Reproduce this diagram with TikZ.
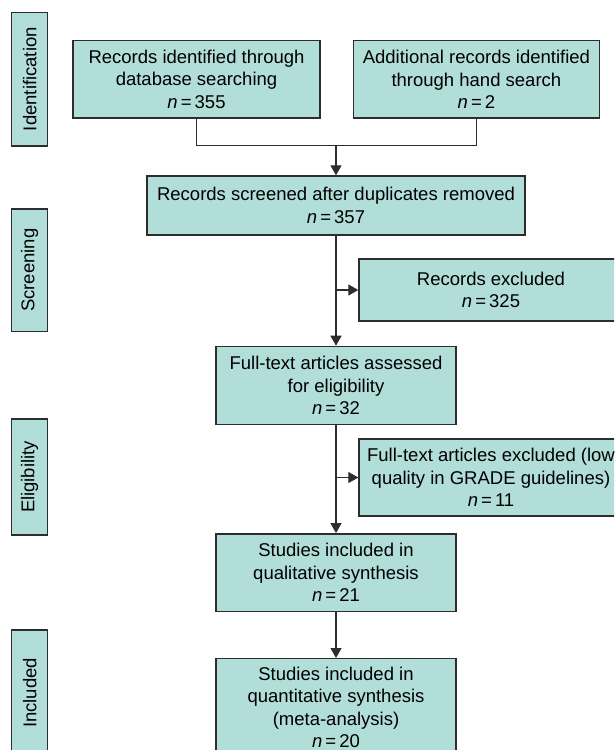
\documentclass[tikz,border=0pt]{standalone}
\usepackage{fontspec}
\setmainfont{Liberation Sans}
\usepackage{xcolor}
\usetikzlibrary{shapes,arrows.meta,positioning,fit,calc}
\definecolor{boxfill}{RGB}{178,222,218}
\definecolor{boxline}{RGB}{45,45,45}

\begin{document}
\begin{tikzpicture}[
    x=1pt, y=-1pt,
    font=\fontsize{18.5}{22.5}\selectfont,
    block/.style={rectangle, draw=boxline, fill=boxfill, line width=1.4pt, align=center, inner sep=2pt},
    phase/.style={rectangle, draw=boxline, fill=boxfill, line width=1.4pt, minimum height=36pt, inner sep=1pt, rotate=90},
    line/.style={draw=boxline, line width=1.3pt, -{Triangle[length=10pt,width=11pt]}},
    link/.style={draw=boxline, line width=1.3pt}
]
\useasboundingbox (0,0) rectangle (614,750);
\clip (0,0) rectangle (614,750);

% Phase labels
\node [phase, minimum width=133.7pt] (ident) at (29.7,79.2) {Identification};
\node [phase, minimum width=122.7pt] (screen) at (29.7,270.3) {Screening};
\node [phase, minimum width=116pt] (elig) at (29.7,477) {Eligibility};
\node [phase, minimum width=126pt] (incl) at (29.7,693) {Included};

% Identification
\node [block, minimum width=247pt, minimum height=77.5pt] (database) at (196.5,79.3) {Records identified through\\database searching\\\textit{n}\,=\,355};
\node [block, minimum width=246pt, minimum height=77.5pt, right=32pt of database] (hand) {Additional records identified\\through hand search\\\textit{n}\,=\,2};

% Screening
\node [block, minimum width=378pt, minimum height=59pt] (screened) at (336,205.5) {Records screened after duplicates removed\\\textit{n}\,=\,357};
\node [block, minimum width=264pt, minimum height=62pt] (excluded) at (491,290) {Records excluded\\\textit{n}\,=\,325};

% Eligibility
\node [block, minimum width=240pt, minimum height=78pt, below=110pt of screened] (fulltext) {Full-text articles assessed\\for eligibility\\\textit{n}\,=\,32};
\node [block, minimum width=264pt, minimum height=77pt] (lowgrade) at (491,477.5) {Full-text articles excluded (low\\quality in GRADE guidelines)\\\textit{n}\,=\,11};

% Included
\node [block, minimum width=240pt, minimum height=77.5pt, below=108pt of fulltext] (qualit) {Studies included in\\qualitative synthesis\\\textit{n}\,=\,21};
\node [block, minimum width=240pt, inner ysep=8pt, below=46pt of qualit] (quantit) {Studies included in\\quantitative synthesis\\(meta-analysis)\\\textit{n}\,=\,20};

% Connections
\coordinate (join) at (336,145.7);
\path [link] (database.south) |- (join) -| (hand.south);
\path [line] (join) -- (screened);
\path [line] (screened) -- (fulltext);
\path [line] (excluded.west -| screened.south) -- (excluded.west);
\path [line] (fulltext) -- (qualit);
\path [line] (lowgrade.west -| fulltext.south) -- (lowgrade.west);
\path [line] (qualit) -- (quantit);
\end{tikzpicture}
\end{document}
